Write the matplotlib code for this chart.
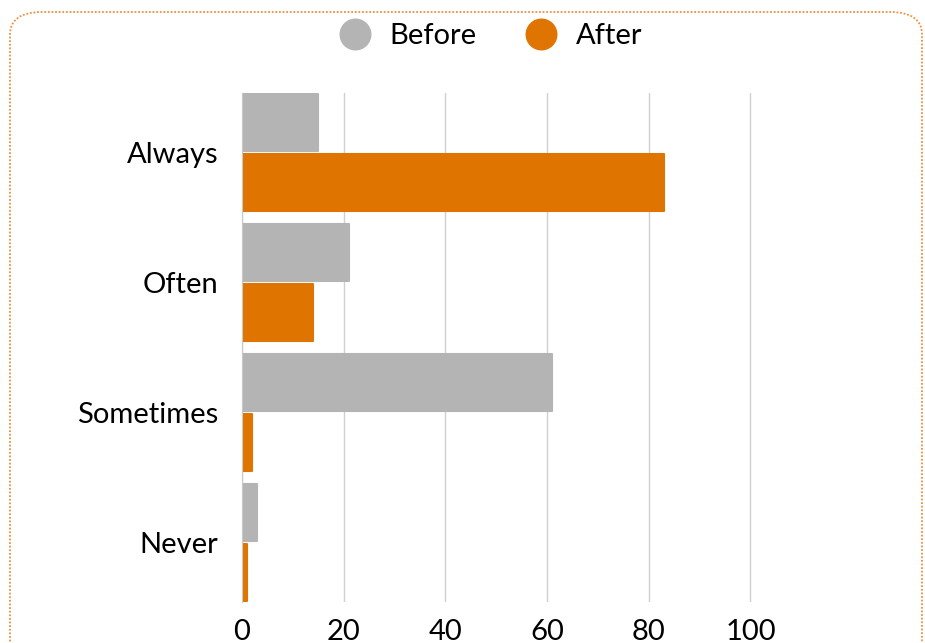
import matplotlib
matplotlib.use("Agg")
import matplotlib.pyplot as plt
from matplotlib.patches import FancyBboxPatch
from matplotlib.lines import Line2D
import numpy as np

categories = ["Always", "Often", "Sometimes", "Never"]
before = [15, 21, 61, 3]
after = [83, 14, 2, 1]
x_ticks = [0, 20, 40, 60, 80, 100]

gray = "#B4B4B4"
orange = "#DF7400"

plt.rcParams["font.family"] = ["Lato", "DejaVu Sans"]

fig = plt.figure(figsize=(9.25, 6.43), dpi=100)
ax = fig.add_axes([242 / 925, 41 / 643, 510 / 925, 509 / 643])

# grouped horizontal bars, Before above After
y = np.arange(len(categories))
h = 0.44
ax.barh(y - 0.23, before, height=h, color=gray, edgecolor=gray,
        linewidth=1.5, joinstyle="round", zorder=3)
ax.barh(y + 0.23, after, height=h, color=orange, edgecolor=orange,
        linewidth=1.5, joinstyle="round", zorder=3)

ax.set_xlim(0, 100.3)
ax.set_ylim(3.46, -0.46)
ax.set_xticks(x_ticks)
ax.set_yticks(y)
ax.set_yticklabels(categories, fontsize=21)
ax.tick_params(axis="x", labelsize=21, length=0, pad=12)
ax.tick_params(axis="y", length=0, pad=17)
ax.grid(axis="x", color="#D0D0D0", linewidth=1, zorder=0)
for s in ["top", "right", "bottom"]:
    ax.spines[s].set_visible(False)
ax.spines["left"].set_color("#C8C8C8")
ax.spines["left"].set_zorder(4)

handles = [Line2D([], [], marker="o", linestyle="", markersize=22, color=gray),
           Line2D([], [], marker="o", linestyle="", markersize=22, color=orange)]
fig.legend(handles, ["Before", "After"], loc="center", bbox_to_anchor=(484 / 925, 1 - 36 / 643),
           ncol=2, frameon=False, fontsize=21, handletextpad=0.2, columnspacing=1.2)

# dotted rounded frame around the whole chart
border = FancyBboxPatch((10 / 925, -0.03), 912 / 925, 1 - 12 / 643 + 0.03,
                        boxstyle="round,pad=0,rounding_size=0.035",
                        transform=fig.transFigure, fill=False,
                        edgecolor="#EE9040", linestyle=(0, (1, 1)), linewidth=1.3)
fig.patches.append(border)

fig.savefig("out.png", dpi=100)
